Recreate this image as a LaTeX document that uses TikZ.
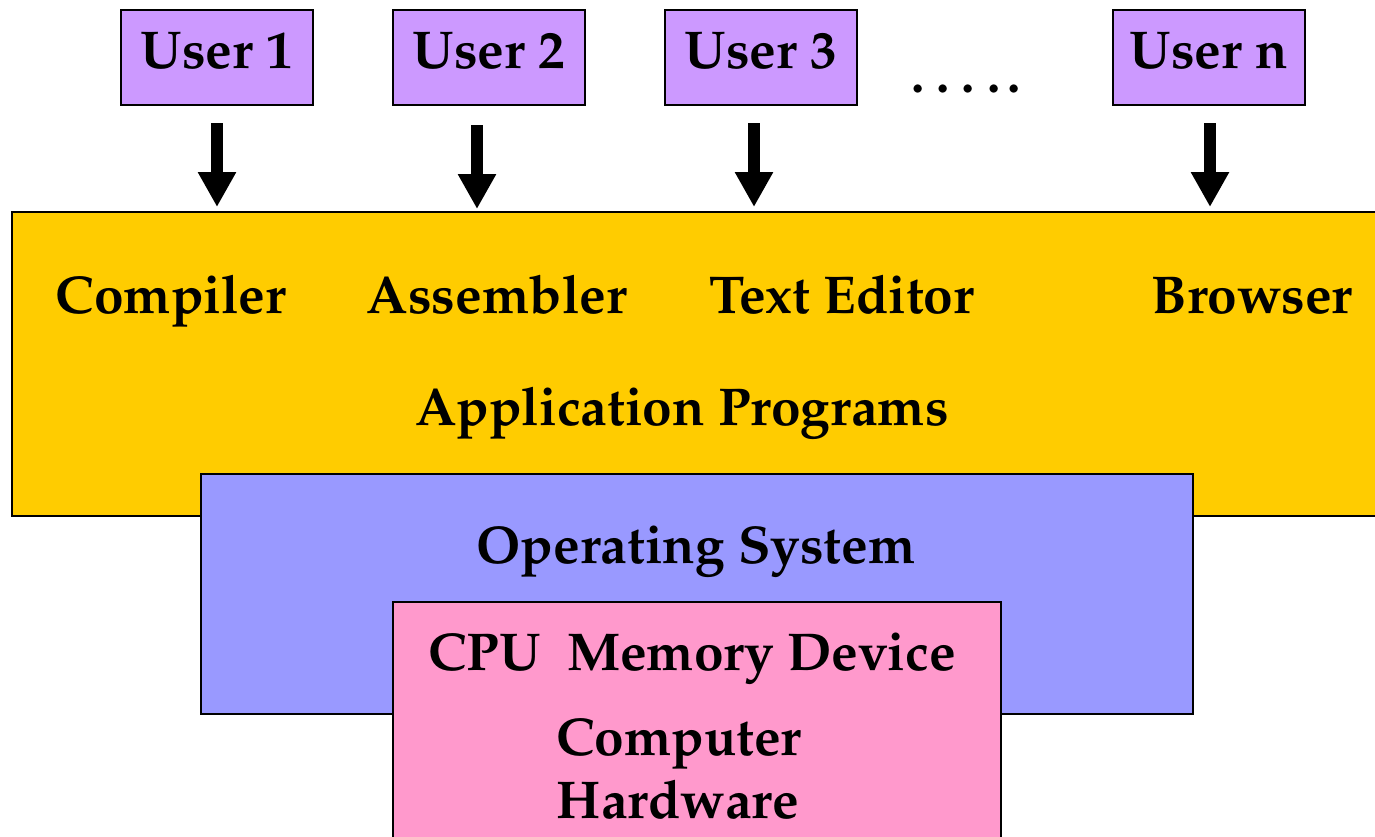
\documentclass[tikz,border=0pt]{standalone}
\usepackage[T1]{fontenc}
\usepackage{mathpazo}
\usetikzlibrary{arrows.meta}
\definecolor{userfill}{HTML}{CC99FF}
\definecolor{appfill}{HTML}{FFCC00}
\definecolor{osfill}{HTML}{9999FF}
\definecolor{hwfill}{HTML}{FF99CC}
\tikzset{
  big/.style={font=\fontsize{53.2}{63}\selectfont\bfseries},
  userbox/.style={draw=black, line width=2.5pt, fill=userfill, big,
    minimum width=192pt, minimum height=95pt, text depth=13pt, inner sep=0pt},
  layer/.style={draw=black, line width=2.5pt, inner sep=0pt},
  lbl/.style={big, anchor=base, inner sep=0pt},
  bigarrow/.style={line width=12pt,
    -{Triangle[width=36pt,length=35pt]}}
}
\begin{document}
\begin{tikzpicture}[x=1pt,y=-1pt]
\useasboundingbox (0,0) rectangle (1375,836);

% users
\node[userbox] (u1) at (217,57.5) {User 1};
\node[userbox] (u2) at (489,57.5) {User 2};
\node[userbox] (u3) at (761,57.5) {User 3};
\node[userbox] (un) at (1209,57.5) {User n};
\node[lbl] (dots) at (966,92) {.\kern12pt.\kern12pt.\kern12pt.\kern7pt.};

% layers
\node[layer, fill=appfill, minimum width=1373pt, minimum height=304pt] (app) at (698.5,364) {};
\node[layer, fill=osfill, minimum width=992pt, minimum height=240pt] (os) at (697,594) {};
\node[layer, line width=2pt, fill=hwfill, minimum width=608pt, minimum height=260pt] (hw) at (697,732) {};

% application programs
\node[lbl] (comp) at (171,313) {Compiler};
\node[lbl] (asm) at (497,313) {Assembler};
\node[lbl] (ed) at (842,313) {Text Editor};
\node[lbl] (brw) at (1252,313) {Browser};
\node[lbl] (apl) at (682,425) {Application Programs};

% operating system
\node[lbl] (osl) at (696,563) {Operating System};

% hardware
\node[lbl] (cpu) at (692,670) {CPU\ \ Memory Device};
\node[lbl] (hw1) at (679,755) {Computer};
\node[lbl] (hw2) at (678,818) {Hardware};

% arrows from users into the applications layer
\coordinate (t1) at (217,207);
\coordinate (t2) at (477,209);
\coordinate (t3) at (754,207);
\coordinate (tn) at (1210,207);
\draw[bigarrow] ([yshift=-17pt]u1.south -| t1) -- (t1);
\draw[bigarrow] ([yshift=-19pt]u2.south -| t2) -- (t2);
\draw[bigarrow] ([yshift=-17pt]u3.south -| t3) -- (t3);
\draw[bigarrow] ([yshift=-17pt]un.south -| tn) -- (tn);
\end{tikzpicture}
\end{document}
